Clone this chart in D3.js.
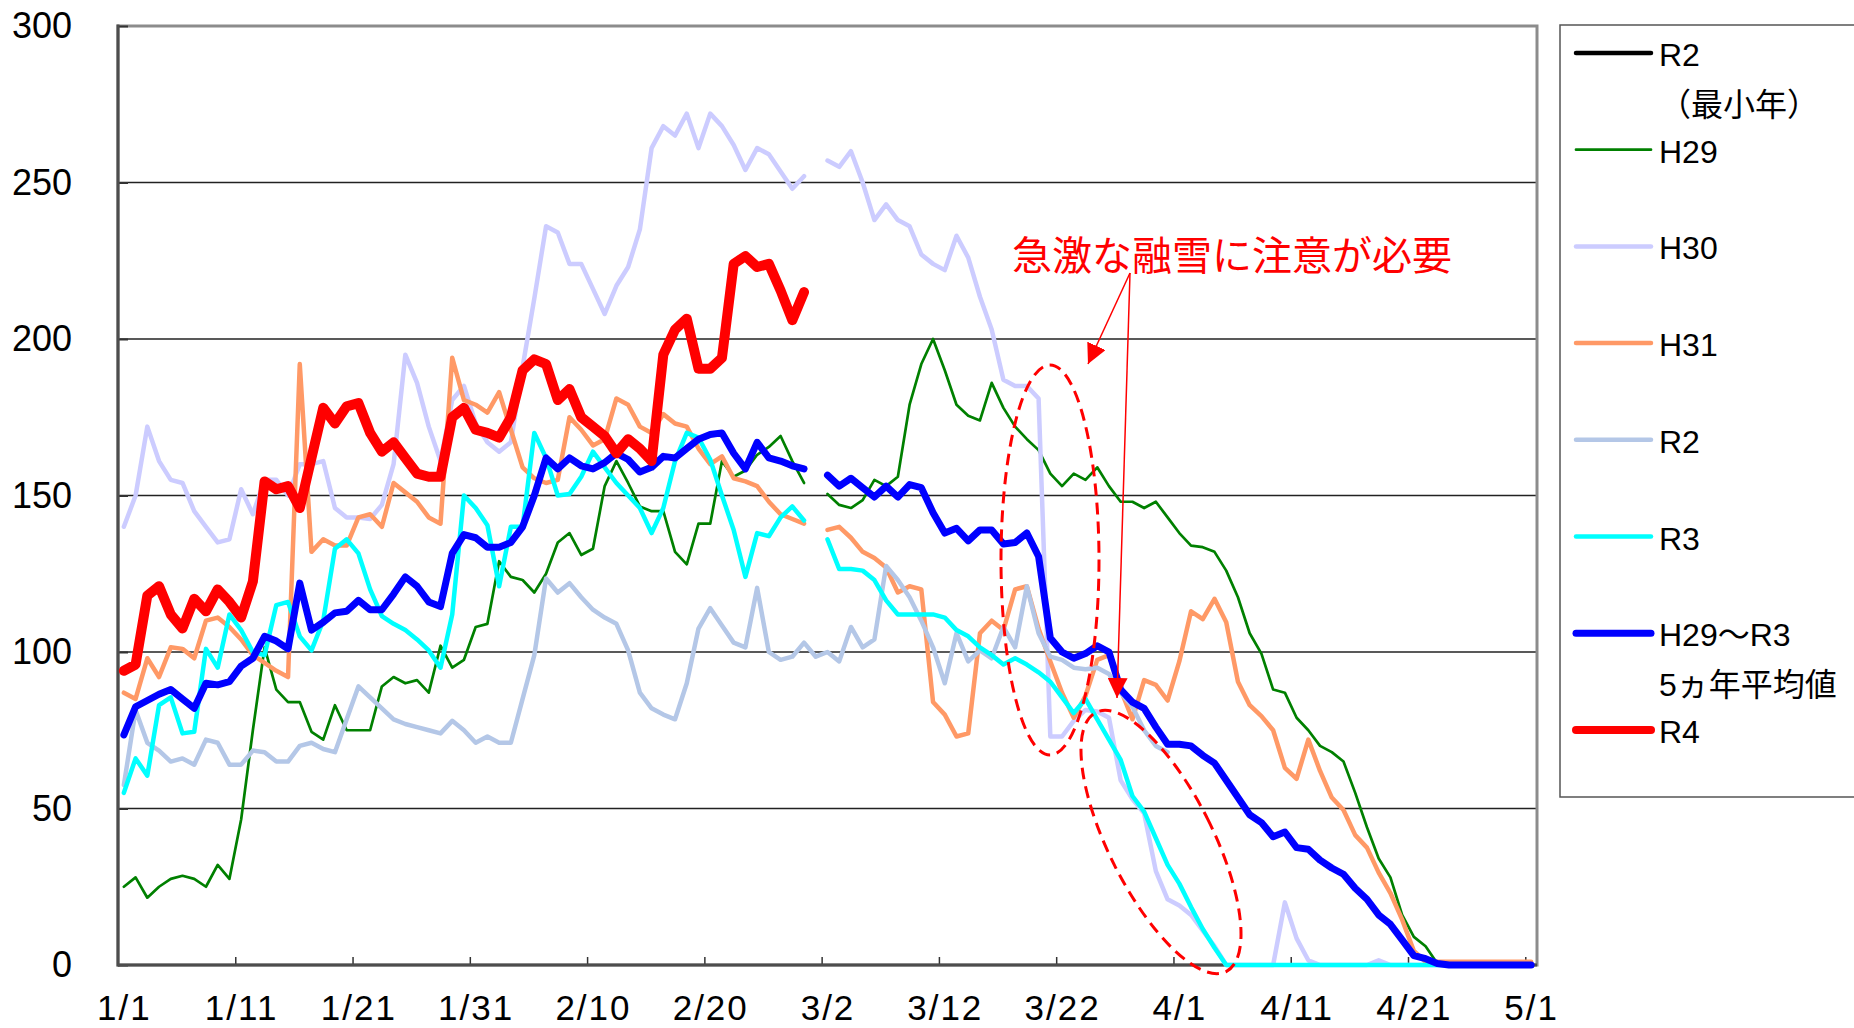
<!DOCTYPE html>
<html>
<head>
<meta charset="utf-8">
<script src="https://cdn.jsdelivr.net/npm/d3@7"></script>
<style>
  body { margin: 0; background: #fff; }
  svg { display: block; }
  text { font-family: "Liberation Sans", "Noto Sans CJK JP", sans-serif; }
</style>
</head>
<body>
<div id="chart"></div>
<script>
"use strict";

// x categories: 1/1 .. 5/1, one per day (121 days), label every 10 days
var tickLabels = ["1/1", "1/11", "1/21", "1/31", "2/10", "2/20", "3/2",
                  "3/12", "3/22", "4/1", "4/11", "4/21", "5/1"];
var yTicks = [0, 50, 100, 150, 200, 250, 300];
var nDays = 121;

// snow depth (cm), index = day from 1/1, null = no data
var r2Min = [];

var h29 = [25, 28, 21.5, 25, 27.5, 28.5, 27.5, 25, 32, 27.5,
  46.5, 75, 101.5, 88, 84, 84, 74.5, 72, 83, 75,
  75, 75, 89, 92, 90, 91, 87, 102, 95, 97.5,
  108, 109, 129, 124, 123, 119, 125, 135, 138, 131,
  133, 153, 161, 154, 146.5, 145, 145, 132, 128, 141,
  141, 161, 156, 158, 163, 165.5, 169, 161, 154, null,
  150.5, 147, 146, 148.5, 155, 153, 156, 179, 192, 200,
  190, 179, 175.5, 174, 186, 178, 172, 168, 164.5, 157,
  153, 157, 155, 159, 153, 148, 148, 146, 148, 143,
  138, 134, 133.5, 132, 126, 117.5, 106, 99.5, 88, 87,
  79, 75, 70, 68, 65, 55, 44, 34, 28, 16,
  9, 6, 0.5, 0, 0, 0, 0, 0, 0, 0, 0];

var h30 = [140, 150, 172, 161, 155, 154, 145, 140, 135, 136,
  152, 144, 155, 155, 150, 160, 160, 161, 146, 143,
  143, 142.5, 147, 160, 195, 186, 172, 161, 180.5, 185,
  173, 167, 164, 167, 191, 213, 236, 234, 224, 224,
  216, 208, 217, 223, 235, 261, 268, 265, 272, 261,
  272, 268, 262, 254, 261, 259, 253.5, 248, 252, null,
  257, 255, 260, 250, 238, 243, 238, 236, 227, 224,
  222, 233, 226, 213.5, 203, 187, 185, 185, 181, 73,
  73, 78, 81.5, 81, 79, 59, 53, 48.5, 30, 21,
  19, 16, 11, 6, 0, 0, 0, 0, 0, 20,
  8.5, 1.5, 0, 0, 0, 0, 0, 1.5, 0, 0,
  0, 0, 0, 0, 0, 0, 0, 0, 0, 0, 0];

var h31 = [87, 85, 98, 92, 101.5, 101, 98, 110, 111, 108,
  104, 99, 96.5, 94, 92, 192, 132, 136, 134, 134,
  143, 144, 140, 154, 151, 148, 143, 141, 194, 180.5,
  179, 176.5, 183, 171, 159, 155.5, 154, 155, 175, 171,
  166, 168, 181, 179, 172, 170, 176, 173, 172, 165,
  160, 162.5, 155.5, 154.5, 153, 148, 144, 142.5, 141, null,
  139, 140, 136.5, 132, 130, 127, 119, 121, 120, 84,
  80, 73, 74, 106, 110, 107, 120, 121, 107.5, 97,
  87, 79, 86, 97.5, 99, 88, 78.5, 91, 89.5, 84.5,
  97, 113, 110.5, 117, 109.5, 90.5, 83, 79.5, 75, 63,
  59.5, 72, 62, 53.5, 49.5, 41.5, 37.5, 29.5, 23, 14.5,
  4.5, 1, 1, 1, 1, 1, 1, 1, 1, 1, 1];

var r2 = [57.5, 81.5, 71, 68.5, 65, 66, 64, 72, 71, 64,
  64, 68.5, 68, 65, 65, 70, 71, 69, 68, 78.5,
  89, 85.5, 82, 78.5, 77, 76, 75, 74, 78, 75,
  71, 73, 71, 71, 85, 99, 123.5, 119, 122, 117.5,
  113.5, 111, 109, 100.5, 87, 82, 80, 78.5, 90, 107.5,
  114, 108.5, 103, 101.5, 120.5, 100, 97.5, 98.5, 103, 98.5,
  100, 97, 108, 101.5, 104, 127.5, 123, 117.5, 110, 101.5,
  90, 106, 97, 100.5, 98, 108, 101.5, 121, 106, 98.5,
  97.5, 95, 94.5, 95, 93, 87, 82.5, 75, 70, 68];

var r3 = [55, 66, 60.5, 83, 85.5, 74, 74.5, 101, 95, 112,
  107, 100, 99, 115, 116, 105, 100.5, 110, 133, 136,
  131.5, 120, 111.5, 109, 107, 104, 100.5, 95, 112, 150,
  146, 140.5, 121, 140, 140, 170, 162, 150, 150.5, 156,
  164, 159, 154, 150, 146, 138, 146, 161, 170, 168.5,
  161.5, 150, 139, 124, 138, 137, 143, 146.5, 142, null,
  136, 126.5, 126.5, 126, 123, 116.5, 112, 112, 112, 112,
  111, 107, 105, 101.5, 99, 96, 98, 96, 93.5, 90.5,
  85.5, 80.5, 85, 78.5, 72, 65.5, 54, 49, 40.5, 32,
  26, 18.5, 11.5, 5.5, 0, 0, 0, 0, 0, 0,
  0, 0, 0, 0, 0, 0, 0, 0, 0, 0,
  0, 0, 0, 0, 0, 0, 0, 0, 0, 0, 0];

var avg5 = [73.5, 82.5, 84.5, 86.5, 88, 85, 82, 90, 89.5, 90.5,
  95.5, 98, 105, 103.5, 101, 122, 107, 109.5, 112.5, 113,
  116.5, 113.5, 113.5, 118.5, 124, 121, 116, 114.5, 131.5, 137.5,
  136.5, 133.5, 133.5, 135, 140, 150, 162, 158.5, 162, 159.5,
  158.5, 160.5, 163.5, 161.5, 157.5, 159, 162.5, 162, 165, 168,
  169.5, 170, 163.5, 158.5, 167, 162, 161, 159.5, 158.5, null,
  156.5, 153, 155.5, 152.5, 149.5, 153, 149.5, 153.5, 152.5, 144.5,
  138, 139.5, 135.5, 139, 139, 134.5, 135, 138, 130.5, 104.5,
  100, 98, 99.5, 102, 100, 88, 84, 82, 76, 70.5,
  70.5, 70, 67, 64.5, 59, 53.5, 48, 45.5, 41, 42.5,
  37.5, 37, 33.5, 31, 29, 24.5, 21, 16, 13, 8,
  3, 2, 0.5, 0, 0, 0, 0, 0, 0, 0, 0];

var r4 = [94, 96, 118, 121, 112, 107.5, 117, 113, 120, 116,
  111, 122.5, 154.5, 152, 153, 146, 162, 178, 173, 178.5,
  179.5, 170, 164, 167, 162, 157, 156, 156, 175, 178,
  171, 170, 168.5, 175, 190, 193.5, 192, 180.5, 184, 175,
  172, 169, 163.5, 168, 165, 161, 195, 203, 206.5, 190.5,
  190.5, 194, 224, 226.5, 223, 224, 215.5, 206, 215];

var seriesNames = ["R2", "H29", "H30", "H31", "R2", "R3", "H29～R3", "R4"];
var seriesSub = ["（最小年）", "", "", "", "", "", "5ヵ年平均値", ""];
var seriesData = [r2Min, h29, h30, h31, r2, r3, avg5, r4];
var seriesColors = ["#000000", "#008000", "#ccccff", "#ff9966", "#b4c7e7", "#00ffff", "#0000ff", "#ff0000"];
var seriesWidths = [4.5, 2.7, 4.5, 4.5, 4.5, 4.5, 7, 10];

var noteText = "急激な融雪に注意が必要";

var W = 1854, H = 1028;
var plotL = 118, plotR = 1537, plotT = 26, plotB = 965;

var svg = d3.select("#chart").append("svg")
  .attr("width", W)
  .attr("height", H);
svg.append("rect").attr("width", W).attr("height", H).attr("fill", "#fff");

var x = d3.scaleLinear().domain([-0.5, nDays - 0.5]).range([plotL, plotR]);
var y = d3.scaleLinear().domain([0, 300]).range([plotB, plotT]);

// grid lines
svg.append("g")
  .selectAll("line")
  .data(yTicks.slice(1, -1))
  .enter()
  .append("line")
    .attr("x1", plotL).attr("x2", plotR)
    .attr("y1", d => y(d)).attr("y2", d => y(d))
    .attr("stroke", "#222")
    .attr("stroke-width", 1.5);

// plot frame
svg.append("rect")
  .attr("x", plotL).attr("y", plotT)
  .attr("width", plotR - plotL).attr("height", plotB - plotT)
  .attr("fill", "none")
  .attr("stroke", "#8c8c8c")
  .attr("stroke-width", 3);

// Y axis
var yAxis = svg.append("g")
  .attr("transform", "translate(" + plotL + ",0)")
  .call(d3.axisLeft(y).tickValues(yTicks).tickSize(-10).tickPadding(46));
yAxis.select(".domain").remove();
yAxis.selectAll("line").attr("stroke", "#333").attr("stroke-width", 2);
yAxis.selectAll("text").attr("font-size", 36).attr("fill", "#000")
  .style("font-family", "Liberation Sans, sans-serif");

// X axis tick marks at category boundaries
var xTickPos = d3.range(1, tickLabels.length).map(k => k * 10 - 0.5);
var xMarks = svg.append("g")
  .attr("transform", "translate(0," + plotB + ")")
  .call(d3.axisBottom(x).tickValues(xTickPos).tickSize(-8).tickFormat(""));
xMarks.select(".domain").remove();
xMarks.selectAll("line").attr("stroke", "#333").attr("stroke-width", 1.5);

// X axis labels
var xLabelPos = d3.range(0, tickLabels.length).map(k => k * 10);
var xAxis = svg.append("g")
  .attr("transform", "translate(0," + plotB + ")")
  .call(d3.axisBottom(x).tickValues(xLabelPos)
    .tickFormat((d, i) => tickLabels[i]).tickSize(0).tickPadding(30));
xAxis.select(".domain").remove();
xAxis.selectAll("text").attr("font-size", 35).attr("fill", "#000")
  .attr("letter-spacing", 2)
  .style("font-family", "Liberation Sans, sans-serif");

// left and bottom axis lines
svg.append("line")
  .attr("x1", plotL).attr("x2", plotL).attr("y1", plotT - 1.5).attr("y2", plotB + 1.5)
  .attr("stroke", "#4d4d4d").attr("stroke-width", 3);
svg.append("line")
  .attr("x1", plotL).attr("x2", plotR).attr("y1", plotB).attr("y2", plotB)
  .attr("stroke", "#4d4d4d").attr("stroke-width", 3);

// the lines
var line = d3.line()
  .defined(d => d.v != null)
  .x(d => x(d.i))
  .y(d => y(d.v));

var lines = seriesData.map(function(arr, k) {
  return {
    k: k,
    values: arr.map((v, i) => ({ i: i, v: v }))
  };
});

svg.append("g")
  .selectAll("path")
  .data(lines)
  .enter()
  .append("path")
    .attr("d", d => line(d.values))
    .attr("fill", "none")
    .attr("stroke", d => seriesColors[d.k])
    .attr("stroke-width", d => seriesWidths[d.k])
    .attr("stroke-linejoin", "round")
    .attr("stroke-linecap", "round");

// annotation: dashed ellipses
svg.append("ellipse")
  .attr("cx", 1050).attr("cy", 560)
  .attr("rx", 49).attr("ry", 195)
  .attr("fill", "none")
  .attr("stroke", "#ff0000")
  .attr("stroke-width", 3)
  .attr("stroke-dasharray", "12,7");

svg.append("ellipse")
  .attr("transform", "translate(1161,842) rotate(-26.7)")
  .attr("rx", 52).attr("ry", 145)
  .attr("fill", "none")
  .attr("stroke", "#ff0000")
  .attr("stroke-width", 3)
  .attr("stroke-dasharray", "12,7");

// arrows
svg.append("defs").append("marker")
  .attr("id", "arrowhead")
  .attr("markerUnits", "userSpaceOnUse")
  .attr("viewBox", "0 -10 20 20")
  .attr("refX", 20).attr("refY", 0)
  .attr("markerWidth", 20).attr("markerHeight", 20)
  .attr("orient", "auto")
  .append("path")
    .attr("d", "M0,-10L20,0L0,10Z")
    .attr("fill", "#ff0000");

var arrowFrom = [1130, 273];
var arrowTo = [[1088, 364], [1117, 698]];
svg.append("g")
  .selectAll("line")
  .data(arrowTo)
  .enter()
  .append("line")
    .attr("x1", arrowFrom[0]).attr("y1", arrowFrom[1])
    .attr("x2", d => d[0]).attr("y2", d => d[1])
    .attr("stroke", "#ff0000")
    .attr("stroke-width", 1.5)
    .attr("marker-end", "url(#arrowhead)");

svg.append("text")
  .attr("x", 1012).attr("y", 253)
  .attr("dominant-baseline", "central")
  .attr("font-size", 40)
  .attr("fill", "#ff0000")
  .style("font-family", "Noto Sans CJK JP, sans-serif")
  .text(noteText);

// legend
var legX = 1560, legY = 25;
svg.append("rect")
  .attr("x", legX).attr("y", legY)
  .attr("width", 320).attr("height", 772)
  .attr("fill", "#fff")
  .attr("stroke", "#555")
  .attr("stroke-width", 1.5);

var legStep = 96.7;
var leg = svg.append("g")
  .selectAll("g")
  .data(seriesNames)
  .enter()
  .append("g")
    .attr("transform", (d, i) => "translate(0," + (53 + i * legStep) + ")");

leg.append("line")
  .attr("x1", 1576).attr("x2", 1651)
  .attr("stroke", (d, i) => seriesColors[i])
  .attr("stroke-width", (d, i) => Math.min(seriesWidths[i], 8))
  .attr("stroke-linecap", "round");

leg.append("text")
  .attr("x", 1659).attr("y", 2)
  .attr("dominant-baseline", "central")
  .attr("font-size", 32)
  .attr("fill", "#000")
  .text(d => d);

leg.append("text")
  .attr("x", 1659).attr("y", 52)
  .attr("dominant-baseline", "central")
  .attr("font-size", 32)
  .attr("fill", "#000")
  .text((d, i) => seriesSub[i]);
</script>
</body>
</html>
